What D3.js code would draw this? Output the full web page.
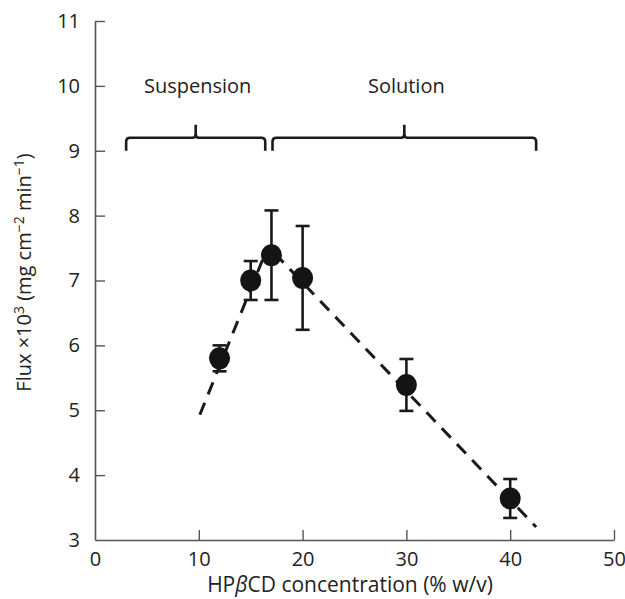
<!DOCTYPE html>
<html>
<head>
<meta charset="utf-8">
<script src="https://cdn.jsdelivr.net/npm/d3@7"></script>
<style>
  body { margin: 0; background: #fff; }
  text { font-family: "Open Sans", "Noto Sans", sans-serif; fill: #222; }
</style>
</head>
<body>
<div id="chart"></div>
<script>
const width = 625, height = 599;
const margin = {top: 21, right: 11, bottom: 59, left: 95};

// data
const conc = [12, 15, 17, 20, 30, 40];
const flux = [5.8, 7.0, 7.39, 7.04, 5.39, 3.64];
const fluxErr = [0.2, 0.3, 0.69, 0.8, 0.4, 0.3];

// dashed fit lines
const suspensionFit = [[10.1, 4.93], [16.6, 7.5]];
const solutionFit = [[17.3, 7.42], [42.5, 3.2]];

// brackets
const groupLabels = ["Suspension", "Solution"];
const groupStart = [3, 17.1];
const groupEnd = [16.4, 42.5];
const groupMid = [9.7, 29.8];

const xTicks = [0, 10, 20, 30, 40, 50];
const yTicks = [3, 4, 5, 6, 7, 8, 9, 10, 11];

const svg = d3.select("#chart").append("svg")
  .attr("width", width)
  .attr("height", height);

const x = d3.scaleLinear().domain([0, 50]).range([margin.left, width - margin.right]);
const y = d3.scaleLinear().domain([3, 11]).range([height - margin.bottom, margin.top]);

// axes
const xAxis = svg.append("g")
  .attr("transform", `translate(0,${y(3)})`)
  .call(d3.axisBottom(x).tickValues(xTicks).tickSizeInner(-10).tickSizeOuter(0).tickPadding(12));
const yAxis = svg.append("g")
  .attr("transform", `translate(${x(0)},0)`)
  .call(d3.axisLeft(y).tickValues(yTicks).tickSizeInner(-10).tickSizeOuter(0).tickPadding(15));

[xAxis, yAxis].forEach(g => {
  g.select(".domain").attr("stroke", "#555").attr("stroke-width", 1.6);
  g.selectAll(".tick line").attr("stroke", "#555").attr("stroke-width", 1.4);
  g.selectAll(".tick text").attr("font-size", 20).attr("fill", "#222")
    .style("font-family", '"Open Sans", sans-serif');
});
yAxis.selectAll(".tick").filter(d => d === 3).select("line").remove();
xAxis.selectAll(".tick").filter(d => d === 0).select("line").remove();
xAxis.selectAll(".tick text").attr("dy", "0.71em");

// axis titles
svg.append("text")
  .attr("x", 350)
  .attr("y", 592)
  .attr("text-anchor", "middle")
  .attr("font-size", 21)
  .html('HP<tspan font-style="italic">β</tspan>CD concentration (% w/v)');

svg.append("text")
  .attr("transform", `translate(31,${(y(3) + y(11)) / 2 - 8}) rotate(-90)`)
  .attr("text-anchor", "middle")
  .attr("font-size", 20)
  .html('Flux ×10<tspan dy="-7" font-size="14">3</tspan><tspan dy="7"> (mg cm</tspan><tspan dy="-7" font-size="14">−2</tspan><tspan dy="7"> min</tspan><tspan dy="-7" font-size="14">−1</tspan><tspan dy="7">)</tspan>');

// brackets
const r = 4;
groupLabels.forEach((label, i) => {
  const x0 = x(groupStart[i]), x1 = x(groupEnd[i]), xm = x(groupMid[i]);
  const yEnd = y(9), yBar = y(9.2), yTip = y(9.4);
  const p = d3.path();
  p.moveTo(x0, yEnd);
  p.lineTo(x0, yBar + r);
  p.quadraticCurveTo(x0, yBar, x0 + r, yBar);
  p.lineTo(xm - 3, yBar);
  p.quadraticCurveTo(xm, yBar, xm, yBar - 4);
  p.lineTo(xm, yTip);
  p.moveTo(xm, yBar - 4);
  p.quadraticCurveTo(xm, yBar, xm + 3, yBar);
  p.lineTo(x1 - r, yBar);
  p.quadraticCurveTo(x1, yBar, x1, yBar + r);
  p.lineTo(x1, yEnd);
  svg.append("path")
    .attr("d", p.toString())
    .attr("fill", "none")
    .attr("stroke", "#1a1a1a")
    .attr("stroke-width", 2.6);

  svg.append("text")
    .attr("x", xm + 2)
    .attr("y", y(9.89))
    .attr("text-anchor", "middle")
    .attr("font-size", 20)
    .text(label);
});

// fit lines
const line = d3.line().x(d => x(d[0])).y(d => y(d[1]));
[suspensionFit, solutionFit].forEach(seg => {
  svg.append("path")
    .attr("d", line(seg))
    .attr("fill", "none")
    .attr("stroke", "#1a1a1a")
    .attr("stroke-width", 3)
    .attr("stroke-dasharray", "13,9");
});

// error bars
const points = conc.map((c, i) => ({c, f: flux[i], e: fluxErr[i]}));
const capW = 7;
const eb = svg.append("g").attr("stroke", "#1a1a1a").attr("stroke-width", 2.6);
points.forEach(d => {
  eb.append("line")
    .attr("x1", x(d.c)).attr("x2", x(d.c))
    .attr("y1", y(d.f - d.e)).attr("y2", y(d.f + d.e));
  [d.f - d.e, d.f + d.e].forEach(v => {
    eb.append("line")
      .attr("x1", x(d.c) - capW).attr("x2", x(d.c) + capW)
      .attr("y1", y(v)).attr("y2", y(v));
  });
});

// markers
svg.append("g").selectAll("ellipse")
  .data(points)
  .join("ellipse")
  .attr("cx", d => x(d.c))
  .attr("cy", d => y(d.f))
  .attr("rx", 10.5)
  .attr("ry", 11)
  .attr("fill", "#141414");
</script>
</body>
</html>
